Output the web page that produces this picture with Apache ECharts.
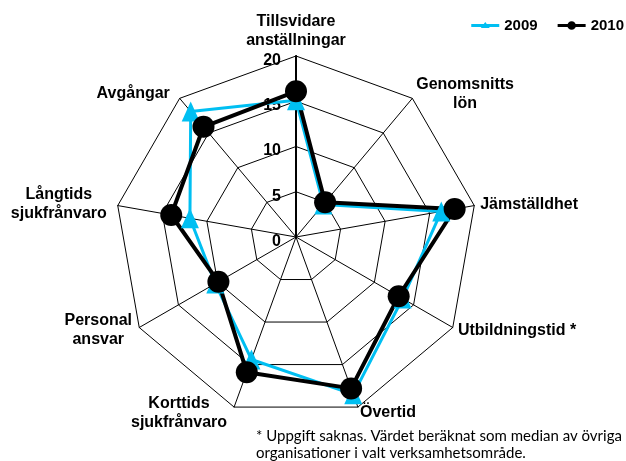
<!DOCTYPE html>
<html>
<head>
<meta charset="utf-8">
<script src="https://cdn.jsdelivr.net/npm/echarts@6/dist/echarts.min.js"></script>
<style>
    html, body { margin: 0; padding: 0; background: #fff; }
    #chart { width: 626px; height: 461px; }
</style>
</head>
<body>
<div id="chart"></div>
<script>
    // axlarna medurs, med start upptill
    var categories = ['Tillsvidare\nanställningar', 'Genomsnitts\nlön', 'Jämställdhet', 'Utbildningstid *',
        'Övertid', 'Korttids\nsjukfrånvaro', 'Personal\nansvar', 'Långtids\nsjukfrånvaro', 'Avgångar'];
    var values2009 = [15.1, 4.7, 16.3, 13.6, 18.5, 14.4, 10.3, 11.9, 18.1];
    var values2010 = [16.1, 5.0, 17.8, 13.1, 17.8, 15.9, 9.9, 14.0, 15.9];
    var tickLabels = [0, 5, 10, 15, 20];
    var footnote = '* Uppgift saknas. Värdet beräknat som median av övriga\norganisationer i valt verksamhetsområde.';

    var blue = '#00bff2';
    var font = '"Liberation Sans", Arial, sans-serif';

    // echarts lägger indikatorerna moturs, så vänd ordningen efter första axeln
    var order = [0];
    for (var i = categories.length - 1; i > 0; i--) order.push(i);
    function pick(arr) {
        return order.map(function (k) { return arr[k]; });
    }

    // lite extra luft till höger om vissa namn
    var namePad = { 'Avgångar': 6, 'Långtids\nsjukfrånvaro': 5, 'Korttids\nsjukfrånvaro': 5, 'Personal\nansvar': 2 };
    var rich = {};
    [0, 2, 5, 6].forEach(function (p) {
        rich['p' + p] = {
            align: 'center', padding: [0, p, 0, 0],
            fontSize: 16, fontWeight: 'bold', fontFamily: font, lineHeight: 19, color: '#000'
        };
    });

    var maxVal = tickLabels[tickLabels.length - 1];
    var chart = echarts.init(document.getElementById('chart'));
    var option = {
        animation: false,
        backgroundColor: '#fff',
        legend: {
            right: -3,
            top: 13,
            itemWidth: 28,
            itemHeight: 10,
            itemGap: 20,
            textStyle: { fontSize: 15, fontWeight: 'bold', fontFamily: font, color: '#000' },
            data: [{
                name: '2009',
                icon: 'path://M0,0L0,10M0,3.6L28,3.6L28,6.4L0,6.4Z M14,1.6L18.5,7.4L9.5,7.4Z',
                itemStyle: { color: blue, borderWidth: 0 }
            }, {
                name: '2010',
                icon: 'path://M0,0L0,10M0,3.6L28,3.6L28,6.4L0,6.4Z M18.3,5A4.3,4.3,0,1,1,9.7,5A4.3,4.3,0,1,1,18.3,5Z',
                itemStyle: { color: '#000', borderWidth: 0 }
            }]
        },
        radar: {
            center: [296, 237],
            radius: 181,
            startAngle: 90,
            shape: 'polygon',
            splitNumber: tickLabels.length - 1,
            indicator: pick(categories).map(function (c) {
                return { name: c, min: 0, max: maxVal };
            }),
            axisNameGap: 6,
            axisName: {
                formatter: function (name) {
                    var p = namePad[name] || 0;
                    return name.split('\n').map(function (l) {
                        return '{p' + p + '|' + l + '}';
                    }).join('\n');
                },
                rich: rich,
                color: '#000'
            },
            axisLine: { lineStyle: { color: '#000', width: 1 } },
            splitLine: { lineStyle: { color: '#000', width: 1 } },
            splitArea: { show: false }
        },
        // vertikal värdeaxel ovanpå översta ekern, för skalans etiketter
        grid: { left: 296, top: 56, width: 1, height: 181 },
        xAxis: { type: 'value', show: false },
        yAxis: {
            type: 'value',
            min: tickLabels[0],
            max: maxVal,
            interval: tickLabels[1] - tickLabels[0],
            axisLine: { show: true, lineStyle: { color: '#000', width: 2 } },
            axisTick: { show: false },
            splitLine: { show: false },
            axisLabel: {
                margin: 15,
                formatter: '{t|{value}}',
                rich: {
                    t: {
                        padding: [9, 0, 0, 0],
                        fontSize: 16,
                        fontWeight: 'bold',
                        fontFamily: font,
                        color: '#000'
                    }
                }
            }
        },
        series: [{
            type: 'radar',
            z: 3,
            data: [{
                name: '2009',
                value: pick(values2009),
                symbol: 'triangle',
                symbolSize: [18, 20],
                itemStyle: { color: blue },
                lineStyle: { color: blue, width: 3 }
            }, {
                name: '2010',
                value: pick(values2010),
                symbol: 'circle',
                symbolSize: 22,
                itemStyle: { color: '#000' },
                lineStyle: { color: '#000', width: 4 }
            }]
        }],
        graphic: [{
            type: 'text',
            left: 256,
            top: 428,
            style: {
                text: footnote,
                font: '15px Lato, "Open Sans", sans-serif',
                lineHeight: 17,
                fill: '#000'
            }
        }]
    };
    chart.setOption(option);
</script>
</body>
</html>
